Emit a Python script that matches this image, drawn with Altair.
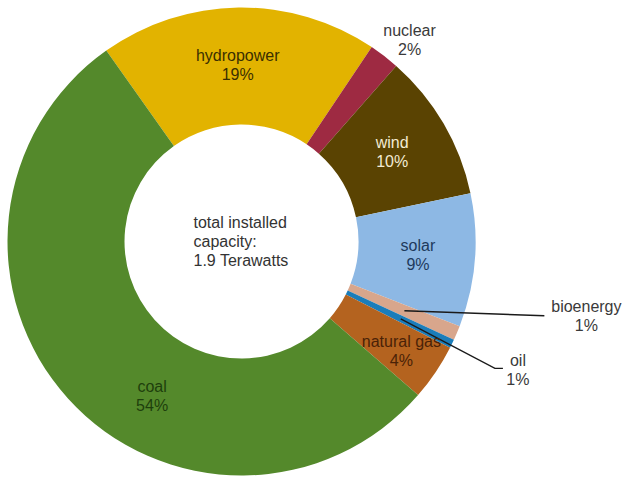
import math

import altair as alt
import pandas as pd

# Installed generating capacity by source (share of total, %)
categories = ["hydropower", "nuclear", "wind", "solar", "bioenergy", "oil", "natural gas", "coal"]
shares = [19.2, 2.1, 10.2, 9.2, 1.0, 0.6, 3.9, 53.8]
colors = ["#E2B300", "#9E2A42", "#5A4302", "#8DB8E4", "#D8A68C", "#1B7DBA", "#B4631F", "#54892B"]

center_lines = ["total installed", "capacity:", "1.9 Terawatts"]

# Layout
W, H = 624, 477
CX, CY = 241.5, 241.5
R_OUT, R_IN = 234, 117
START_DEG = -35.3
FONT = "Liberation Sans"
FONT_SIZE = 16
LINE_H = 19

# label placement: radius (px), angular nudge from slice middle (deg), text colour
label_style = {
    "hydropower": (176, -0.5, "#3A2F00"),
    "nuclear": (262, 2.3, "#3A3A3A"),
    "wind": (175, -0.3, "#F3EBD3"),
    "solar": (177, -0.2, "#1E3A5C"),
    "bioenergy": (353, -10.7, "#3A3A3A"),
    "oil": (305, -0.9, "#3A3A3A"),
    "natural gas": (194, 0.5, "#4A2207"),
    "coal": (179, -17.9, "#1E3F0C"),
}
# leader lines: bends/ends relative to the label centre (px)
leader_ends = {
    "bioenergy": [(-42, -1)],
    "oil": [(-23, -2), (-15, -2)],
}
LEADER_R = 177

df = pd.DataFrame({"category": categories, "share": shares})
df["end"] = df["share"].cumsum()
df["start"] = df["end"] - df["share"]
df["mid"] = (df["start"] + df["end"]) / 2
df["pct"] = [f"{round(v)}%" for v in shares]
df["label"] = df["category"] + "\n" + df["pct"]
df["label_r"] = [label_style[c][0] for c in categories]
df["label_pos"] = df["mid"] + [label_style[c][1] / 3.6 for c in categories]
df["label_color"] = [label_style[c][2] for c in categories]


def polar(pos, r):
    a = math.radians(START_DEG + pos * 3.6)
    return CX + r * math.sin(a), CY - r * math.cos(a)


rows = []
for cat, ends in leader_ends.items():
    rec = df[df["category"] == cat].iloc[0]
    sx, sy = polar(rec["mid"], LEADER_R)
    lx, ly = polar(rec["label_pos"], rec["label_r"])
    rows.append({"category": cat, "step": 0, "px": sx, "py": sy})
    for i, (ox, oy) in enumerate(ends, start=1):
        rows.append({"category": cat, "step": i, "px": lx + ox, "py": ly + oy})
leaders = pd.DataFrame(rows)

start_rad = math.radians(START_DEG)
theta_scale = alt.Scale(domain=[0, 100], range=[start_rad, start_rad + 2 * math.pi])
color_scale = alt.Scale(domain=categories, range=colors)

base = alt.Chart(df)

ring = base.mark_arc(outerRadius=R_OUT, innerRadius=R_IN).encode(
    theta=alt.Theta("start:Q", stack=None, scale=theta_scale),
    theta2="end:Q",
    color=alt.Color("category:N", scale=color_scale, legend=None),
    x=alt.value(CX),
    y=alt.value(CY),
)

# two-line labels, shifted up half a line so the block is centred on its anchor
labels = base.mark_text(
    font=FONT, fontSize=FONT_SIZE, lineHeight=LINE_H, lineBreak="\n",
    align="center", baseline="middle", dy=-LINE_H / 2,
).encode(
    theta=alt.Theta("label_pos:Q", stack=None, scale=theta_scale),
    radius=alt.Radius("label_r:Q", scale=None),
    text="label:N",
    color=alt.Color("label_color:N", scale=None),
    x=alt.value(CX),
    y=alt.value(CY),
)

leader_lines = alt.Chart(leaders).mark_line(color="#1A1A1A", strokeWidth=1.4).encode(
    x=alt.X("px:Q", scale=None, axis=None),
    y=alt.Y("py:Q", scale=None, axis=None),
    detail="category:N",
    order="step:Q",
)

center_text = alt.Chart(pd.DataFrame({"t": ["\n".join(center_lines)]})).mark_text(
    font=FONT, fontSize=FONT_SIZE, lineHeight=LINE_H, lineBreak="\n",
    align="left", baseline="middle", color="#333333", dx=-48, dy=-LINE_H,
).encode(
    text="t:N",
    x=alt.value(CX),
    y=alt.value(CY),
)

chart = (
    alt.layer(ring, leader_lines, labels, center_text)
    .properties(width=W, height=H, padding=0, autosize=alt.AutoSizeParams(type="none"))
    .configure_view(stroke=None)
)

chart.save("out.html", embed_options={"renderer": "svg", "actions": False})
